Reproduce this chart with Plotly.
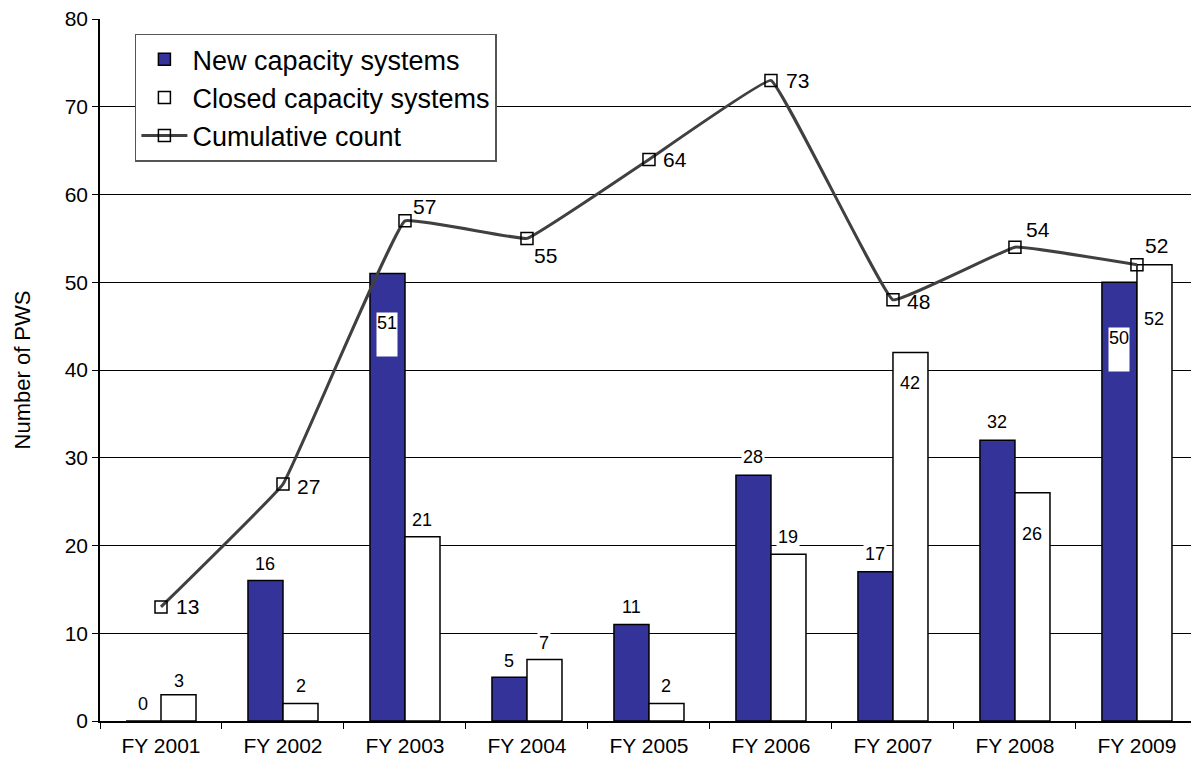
import plotly.graph_objects as go

categories = ["FY 2001", "FY 2002", "FY 2003", "FY 2004", "FY 2005",
              "FY 2006", "FY 2007", "FY 2008", "FY 2009"]
new_capacity = [0, 16, 51, 5, 11, 28, 17, 32, 50]
closed_capacity = [3, 2, 21, 7, 2, 19, 42, 26, 52]
cumulative = [13, 27, 57, 55, 64, 73, 48, 54, 52]

# label placement offsets in pixels (style only)
cum_label_dx = [13, 12, 6, 5, 12, 13, 12, 9, 6]
cum_label_dy = [0, -2, 14, -17, 0, 0, -2, 18, 19]
new_label_shift = [17, 17, None, 16, 17, 18, 18, 18, None]      # None -> boxed inside
new_box_shift = [0, 0, -39, 0, 0, 0, 0, 0, -45]
closed_label_shift = [14, 17, 17, 17, 17, 17, -31, -41, -54]

FONT = "Liberation Sans, Arial, sans-serif"
NAVY = "#333399"
BARGAP = 0.426
half = (1 - BARGAP) / 4  # offset of each bar center from category center

fig = go.Figure()
fig.add_trace(go.Bar(
    x=categories, y=new_capacity, name="New capacity systems",
    marker=dict(color=NAVY, line=dict(color="black", width=1.5)),
    legendgroup="a",
))
fig.add_trace(go.Bar(
    x=categories, y=closed_capacity, name="Closed capacity systems",
    marker=dict(color="white", line=dict(color="black", width=1.5)),
    legendgroup="b",
))
fig.add_trace(go.Scatter(
    x=categories, y=cumulative, name="Cumulative count",
    mode="lines+markers",
    line=dict(color="#404040", width=3, shape="spline", smoothing=0.2),
    marker=dict(symbol="square-open", size=12, color="black", line=dict(width=1.5)),
    legendgroup="c", cliponaxis=False,
))

annotations = []
for i, v in enumerate(new_capacity):
    if new_label_shift[i] is not None:
        annotations.append(dict(x=i - half, y=v, text=str(v), showarrow=False,
                                yshift=new_label_shift[i], yanchor="middle",
                                bgcolor="white", font=dict(family=FONT, size=18, color="black")))
    else:
        annotations.append(dict(x=i - half, y=v, text=str(v), showarrow=False,
                                yshift=new_box_shift[i], yanchor="top", height=43, valign="top",
                                borderpad=0, bgcolor="white",
                                font=dict(family=FONT, size=18, color="black")))
for i, v in enumerate(closed_capacity):
    annotations.append(dict(x=i + half, y=v, text=str(v), showarrow=False,
                            yshift=closed_label_shift[i], yanchor="middle",
                            bgcolor="white", font=dict(family=FONT, size=18, color="black")))
for i, v in enumerate(cumulative):
    annotations.append(dict(x=i, y=v, text=str(v), showarrow=False,
                            xanchor="left", yanchor="middle",
                            xshift=cum_label_dx[i], yshift=cum_label_dy[i],
                            font=dict(family=FONT, size=21, color="black")))

fig.update_layout(
    width=1191, height=759, autosize=False,
    margin=dict(l=100, r=0, t=19, b=38, pad=0),
    paper_bgcolor="white", plot_bgcolor="white",
    barmode="group", bargap=BARGAP, bargroupgap=0,
    font=dict(family=FONT, color="black"),
    annotations=annotations,
    legend=dict(x=0.032, y=0.979, xanchor="left", yanchor="top",
                bgcolor="white", bordercolor="#555555", borderwidth=1.5,
                font=dict(family=FONT, size=27, color="black"),
                traceorder="grouped", tracegroupgap=0, itemwidth=46),
    xaxis=dict(
        type="category", range=[-0.5, 8.443], showgrid=False, zeroline=False,
        showline=True, linecolor="black", linewidth=1.5,
        tickson="boundaries", ticks="outside", ticklen=6, tickcolor="black", tickwidth=1,
        ticklabelstandoff=5,
        tickfont=dict(family=FONT, size=21, color="black"),
    ),
    yaxis=dict(
        range=[0, 80], dtick=10, showgrid=True, gridcolor="black", gridwidth=1,
        zeroline=False, showline=True, linecolor="black", linewidth=1.5,
        ticks="outside", ticklen=6, tickcolor="black", tickwidth=1,
        tickfont=dict(family=FONT, size=21, color="black"),
        title=dict(text="Number of PWS", font=dict(family=FONT, size=22, color="black"), standoff=28),
    ),
)

fig.write_html("out.html")
